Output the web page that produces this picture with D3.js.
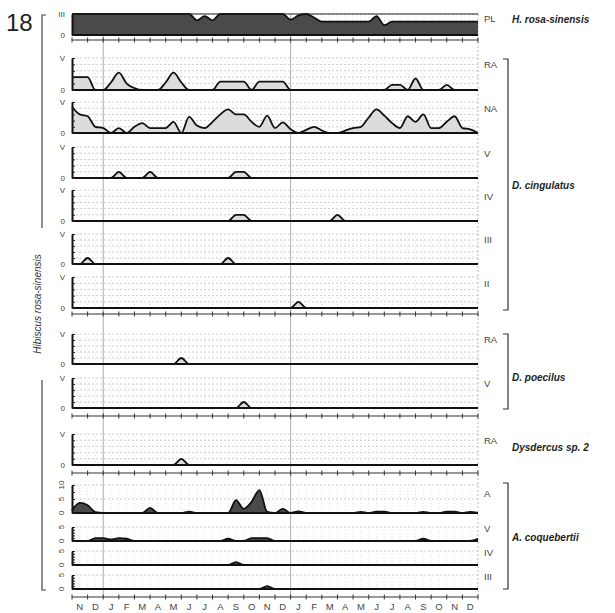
<!DOCTYPE html>
<html>
<head>
<meta charset="utf-8">
<script src="https://cdn.jsdelivr.net/npm/d3@7"></script>
<style>
  body { margin: 0; background: #fff; }
  text { font-family: "Liberation Sans", Arial, sans-serif; }
</style>
</head>
<body>
<script>
// months from Nov to Dec of the following year
var months = ["N","D","J","F","M","A","M","J","J","A","S","O","N","D",
              "J","F","M","A","M","J","J","A","S","O","N","D"];
// samples every half month (0 .. 26 months)
var sampleT = d3.range(53).map(function(i){ return i / 2; });

var plValues = [3,3,3,3,3,3,3,3,3,3, 3,3,3,3,3,3,2.1,2.7,2.1,3,
                3,3,3,3,3,3,3,3,2.2,2.8, 3,2.5,1.9,1.9,1.9,1.9,1.9,1.9,1.9,2.7,
                1.4,1.9,1.9,1.9,1.9,1.9,1.9,1.9,1.9,1.9, 1.9,1.9,1.9];

var dcRA  = [2,2,2,0,0,1.2,2.7,1,0.3,0, 0,0,1.2,2.7,1.2,0,0,0,0,1.3,
             1.3,1.3,1.3,0,1.3,1.3,1.3,1.3,0,0, 0,0,0,0,0,0,0,0,0,0,
             0,0.8,0.8,0,1.8,0,0,0,0.8,0, 0,0,0];
var dcNA  = [4.2,3,2.7,1,0.8,0,0.8,0,1,1.6, 0.8,0.8,0.8,1.8,0,2.6,1.2,0.8,1.8,3,
             3.8,3,3,1.8,1,2.8,0.8,1.7,0.6,0, 0.5,1,0.4,0,0,0.4,0.8,1,2.5,3.8,
             2.8,1.6,0.8,2.7,1.8,3,0.8,0.8,1.8,2.7, 0.8,0.6,0];
var dcV   = [0,0,0,0,0,0,1,0,0,0, 1,0,0,0,0,0,0,0,0,0, 0,1,1,0,0,0,0,0,0,0,
             0,0,0,0,0,0,0,0,0,0, 0,0,0,0,0,0,0,0,0,0, 0,0,0];
var dcIV  = [0,0,0,0,0,0,0,0,0,0, 0,0,0,0,0,0,0,0,0,0, 0,1,1,0,0,0,0,0,0,0,
             0,0,0,0,1,0,0,0,0,0, 0,0,0,0,0,0,0,0,0,0, 0,0,0];
var dcIII = [0,0,1,0,0,0,0,0,0,0, 0,0,0,0,0,0,0,0,0,0, 1,0,0,0,0,0,0,0,0,0,
             0,0,0,0,0,0,0,0,0,0, 0,0,0,0,0,0,0,0,0,0, 0,0,0];
var dcII  = [0,0,0,0,0,0,0,0,0,0, 0,0,0,0,0,0,0,0,0,0, 0,0,0,0,0,0,0,0,0,1,
             0,0,0,0,0,0,0,0,0,0, 0,0,0,0,0,0,0,0,0,0, 0,0,0];
var dpRA  = [0,0,0,0,0,0,0,0,0,0, 0,0,0,0,1,0,0,0,0,0, 0,0,0,0,0,0,0,0,0,0,
             0,0,0,0,0,0,0,0,0,0, 0,0,0,0,0,0,0,0,0,0, 0,0,0];
var dpV   = [0,0,0,0,0,0,0,0,0,0, 0,0,0,0,0,0,0,0,0,0, 0,0,1,0,0,0,0,0,0,0,
             0,0,0,0,0,0,0,0,0,0, 0,0,0,0,0,0,0,0,0,0, 0,0,0];
var dysRA = [0,0,0,0,0,0,0,0,0,0, 0,0,0,0,1,0,0,0,0,0, 0,0,0,0,0,0,0,0,0,0,
             0,0,0,0,0,0,0,0,0,0, 0,0,0,0,0,0,0,0,0,0, 0,0,0];
var acA   = [1,3.6,2.8,0.3,0,0,0,0,0,0, 1.8,0,0,0,0,0.5,0,0,0,0,
             0,4.6,1.5,4,8.2,0.4,0,1.5,0,0.6, 0,0,0,0,0,0,0,0.4,0,0.5,
             0.5,0,0,0,0,0.4,0,0,0.5,0.5, 0,0.4,0];
var acV   = [0,0,0,1,1,0.6,1,0.8,0,0, 0,0,0,0,0,0,0,0,0,0, 0.8,0,0,1,1,1,0,0,0,0,
             0,0,0,0,0,0,0,0,0,0, 0,0,0,0,0,0.8,0,0,0,0, 0,0,0.8];
var acIV  = [0,0,0,0,0,0,0,0,0,0, 0,0,0,0,0,0,0,0,0,0, 0,1,0,0,0,0,0,0,0,0,
             0,0,0,0,0,0,0,0,0,0, 0,0,0,0,0,0,0,0,0,0, 0,0,0];
var acIII = [0,0,0,0,0,0,0,0,0,0, 0,0,0,0,0,0,0,0,0,0, 0,0,0,0,0,1,0,0,0,0,
             0,0,0,0,0,0,0,0,0,0, 0,0,0,0,0,0,0,0,0,0, 0,0,0];

var w = 615, h = 613;
var left = 72, right = 478;
var dark = "#4a4a4a", light = "#dcdcdc";

var svg = d3.select("body").append("svg")
    .attr("width", w)
    .attr("height", h);

var x = d3.scaleLinear().domain([0, 26]).range([left, right]);

var panels = [
  {values: plValues, top: 14, base: 35, max: 3, fill: dark, labels: {3: "III", 0: "0"}, name: "PL"},
  {values: dcRA,  top: 58,  base: 90,  max: 5, fill: light, labels: {5: "V", 0: "0"}, name: "RA"},
  {values: dcNA,  top: 102, base: 133, max: 5, fill: light, labels: {5: "V", 0: "0"}, name: "NA"},
  {values: dcV,   top: 147, base: 178, max: 5, fill: light, labels: {5: "V", 0: "0"}, name: "V"},
  {values: dcIV,  top: 190, base: 221, max: 5, fill: light, labels: {5: "V", 0: "0"}, name: "IV"},
  {values: dcIII, top: 234, base: 264, max: 5, fill: light, labels: {5: "V", 0: "0"}, name: "III"},
  {values: dcII,  top: 277, base: 308, max: 5, fill: light, labels: {5: "V", 0: "0"}, name: "II"},
  {values: dpRA,  top: 334, base: 364, max: 5, fill: light, labels: {5: "V", 0: "0"}, name: "RA"},
  {values: dpV,   top: 378, base: 408, max: 5, fill: light, labels: {5: "V", 0: "0"}, name: "V"},
  {values: dysRA, top: 434, base: 465, max: 5, fill: light, labels: {5: "V", 0: "0"}, name: "RA"},
  {values: acA,   top: 485, base: 513, max: 10, fill: dark, labels: {10: "10", 5: "5", 0: "0"}, name: "A", step: 5, rot: true},
  {values: acV,   top: 527, base: 541, max: 5, fill: dark, labels: {5: "5", 0: "0"}, name: "V", step: 5, rot: true},
  {values: acIV,  top: 551, base: 565, max: 5, fill: dark, labels: {5: "5", 0: "0"}, name: "IV", step: 5, rot: true},
  {values: acIII, top: 575, base: 589, max: 5, fill: dark, labels: {5: "5", 0: "0"}, name: "III", step: 5, rot: true}
];

var monthAxes = [40, 314, 416, 473, 597];

// long vertical guides: the two January boundaries and the right edge
svg.selectAll("line.jan")
    .data([2, 14])
    .enter().append("line")
    .attr("x1", function(d){ return x(d); })
    .attr("x2", function(d){ return x(d); })
    .attr("y1", 14).attr("y2", 597)
    .attr("stroke", "#9a9a9a").attr("stroke-width", 0.8);
svg.append("line")
    .attr("x1", x(26)).attr("x2", x(26))
    .attr("y1", 14).attr("y2", 597)
    .attr("stroke", "#aaa").attr("stroke-width", 0.8)
    .attr("stroke-dasharray", "2,2");

panels.forEach(function(p){
    var y = d3.scaleLinear().domain([0, p.max]).range([p.base, p.top]);
    var g = svg.append("g");
    var step = p.step || 1;
    var levels = d3.range(step, p.max + 0.01, step);

    // dotted grid
    g.selectAll("line.hg")
        .data(levels)
        .enter().append("line")
        .attr("x1", left).attr("x2", right)
        .attr("y1", function(d){ return y(d); })
        .attr("y2", function(d){ return y(d); })
        .attr("stroke", "#adadad").attr("stroke-width", 0.6)
        .attr("stroke-dasharray", "2,2");
    g.selectAll("line.vg")
        .data(d3.range(1, 52))
        .enter().append("line")
        .attr("x1", function(d){ return x(d / 2); })
        .attr("x2", function(d){ return x(d / 2); })
        .attr("y1", p.top).attr("y2", p.base)
        .attr("stroke", "#c4c4c4").attr("stroke-width", 0.5)
        .attr("stroke-dasharray", "1,2");

    var pts = sampleT.map(function(t, i){ return [t, p.values[i]]; });

    var area = d3.area()
        .x(function(d){ return x(d[0]); })
        .y0(p.base)
        .y1(function(d){ return y(d[1]); })
        .curve(d3.curveMonotoneX);
    var line = d3.line()
        .x(function(d){ return x(d[0]); })
        .y(function(d){ return y(d[1]); })
        .curve(d3.curveMonotoneX);

    g.append("path").datum(pts)
        .attr("d", area)
        .attr("fill", p.fill);
    g.append("path").datum(pts)
        .attr("d", line)
        .attr("fill", "none")
        .attr("stroke", "#111")
        .attr("stroke-width", 1.8)
        .attr("stroke-linejoin", "round");

    if (p.name === "PL") {
        g.append("line")
            .attr("x1", left).attr("x2", right)
            .attr("y1", p.top).attr("y2", p.top)
            .attr("stroke", "#222").attr("stroke-width", 1);
    }

    // baseline
    g.append("line")
        .attr("x1", left).attr("x2", right)
        .attr("y1", p.base).attr("y2", p.base)
        .attr("stroke", "#111").attr("stroke-width", 2);

    // left axis
    var ticks = d3.range(0, p.max + 0.01, p.max > 5 ? 2.5 : 1);
    var ax = d3.axisLeft(y)
        .tickValues(ticks)
        .tickSizeInner(-3)
        .tickSizeOuter(0)
        .tickFormat("");
    var axG = g.append("g")
        .attr("transform", "translate(" + left + ",0)")
        .call(ax);
    axG.select(".domain").attr("stroke", "#111").attr("stroke-width", 2);
    axG.selectAll(".tick line").attr("stroke", "#222").attr("stroke-width", 1);

    Object.keys(p.labels).forEach(function(k){
        var t = g.append("text")
            .text(p.labels[k])
            .attr("font-size", 8)
            .attr("fill", "#444");
        if (p.rot) {
            t.attr("text-anchor", "middle")
             .attr("transform", "translate(61," + y(+k) + ") rotate(-90)")
             .attr("dy", "0.35em");
        } else {
            t.attr("x", 65).attr("y", y(+k))
             .attr("text-anchor", "end")
             .attr("dy", "0.35em");
        }
    });

    // right stage label
    g.append("text")
        .text(p.name)
        .attr("x", right + 6)
        .attr("y", p.name === "PL" ? 22 : (p.top + p.base) / 2 - (p.rot ? 2 : 6))
        .attr("font-size", 9.5)
        .attr("fill", "#444");
});

// month axes
monthAxes.forEach(function(yy){
    svg.append("line")
        .attr("x1", left).attr("x2", right)
        .attr("y1", yy).attr("y2", yy)
        .attr("stroke", "#333").attr("stroke-width", 1.2);
    svg.selectAll(null)
        .data(d3.range(27))
        .enter().append("line")
        .attr("x1", function(d){ return x(d); })
        .attr("x2", function(d){ return x(d); })
        .attr("y1", yy - 2.5).attr("y2", yy + 2.5)
        .attr("stroke", "#333").attr("stroke-width", 1);
});

svg.selectAll("text.month")
    .data(months)
    .enter().append("text")
    .attr("class", "month")
    .text(function(d){ return d; })
    .attr("x", function(d, i){ return x(i + 0.5); })
    .attr("y", 610)
    .attr("text-anchor", "middle")
    .attr("font-size", 9.5)
    .attr("fill", "#444");

// species labels and brackets
var species = [
  {name: "H. rosa-sinensis", y: 23},
  {name: "D. cingulatus", y: 189, y1: 59, y2: 310},
  {name: "D. poecilus", y: 381, y1: 334, y2: 409},
  {name: "Dysdercus sp. 2", y: 451},
  {name: "A. coquebertii", y: 541, y1: 483, y2: 589}
];
species.forEach(function(s){
    svg.append("text")
        .text(s.name)
        .attr("x", 512)
        .attr("y", s.y)
        .attr("font-size", 10)
        .attr("font-style", "italic")
        .attr("font-weight", "bold")
        .attr("fill", "#222");
    if (s.y1) {
        svg.append("path")
            .attr("d", "M503," + s.y1 + "H508V" + s.y2 + "H503")
            .attr("fill", "none")
            .attr("stroke", "#333")
            .attr("stroke-width", 1.2);
    }
});

// figure number and host plant
svg.append("text")
    .text("18")
    .attr("x", 6).attr("y", 31)
    .attr("font-size", 24)
    .attr("fill", "#222");

svg.append("path")
    .attr("d", "M46,15H42V228M42,380V590H46")
    .attr("fill", "none")
    .attr("stroke", "#444")
    .attr("stroke-width", 1.2);

svg.append("text")
    .text("Hibiscus rosa-sinensis")
    .attr("transform", "translate(41,304) rotate(-90)")
    .attr("text-anchor", "middle")
    .attr("font-size", 10)
    .attr("font-style", "italic")
    .attr("fill", "#333");
</script>
</body>
</html>
